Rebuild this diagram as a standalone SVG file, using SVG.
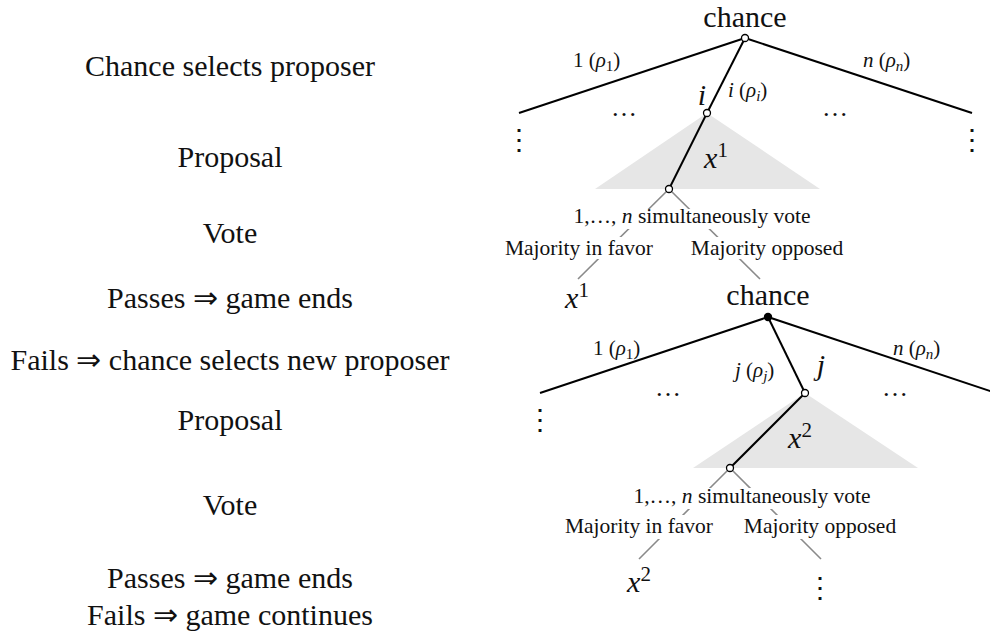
<svg xmlns="http://www.w3.org/2000/svg" width="990" height="633" viewBox="0 0 990 633">
<style>
text{font-family:"Liberation Serif","Times New Roman",serif;fill:#111}
.step{font-size:30px;text-anchor:middle}
.big{font-size:30px;text-anchor:middle}
.lab{font-size:21px}
.vote{font-size:21.5px;text-anchor:middle}
.it{font-style:italic}
.edge{stroke:#000;stroke-width:2;fill:none}
.gedge{stroke:#8a8a8a;stroke-width:1.6;fill:none}
.tri{fill:#e6e6e6;stroke:none}
.open{fill:#fff;stroke:#000;stroke-width:1.3}
.bg{fill:#fff}
.vd{font-family:"DejaVu Serif",serif;font-size:28px;text-anchor:middle}
.ell{font-size:26px;text-anchor:middle}
</style>
<g id="stages">
<text class="step" x="230" y="76">Chance selects proposer</text>
<text class="step" x="230" y="167">Proposal</text>
<text class="step" x="230" y="243">Vote</text>
<text class="step" x="230" y="308">Passes ⇒ game ends</text>
<text class="step" x="230" y="370">Fails ⇒ chance selects new proposer</text>
<text class="step" x="230" y="430">Proposal</text>
<text class="step" x="230" y="515">Vote</text>
<text class="step" x="230" y="588">Passes ⇒ game ends</text>
<text class="step" x="230" y="625">Fails ⇒ game continues</text>
</g>
<g id="triangles">
<polygon class="tri" points="595,189 820,189 707,113"/>
<polygon class="tri" points="693,468 918,468 805,393"/>
</g>
<g id="connectors">
<line class="edge" x1="745" y1="38" x2="519" y2="113"/>
<line class="edge" x1="745" y1="38" x2="972" y2="113"/>
<line class="edge" x1="745" y1="38" x2="707" y2="113"/>
<line class="edge" x1="707" y1="113" x2="669" y2="189"/>
<line class="gedge" x1="669" y1="189" x2="578" y2="279"/>
<line class="gedge" x1="669" y1="189" x2="760" y2="279"/>
<line class="edge" x1="768" y1="317" x2="540" y2="393"/>
<line class="edge" x1="768" y1="317" x2="996" y2="393"/>
<line class="edge" x1="768" y1="317" x2="805" y2="393"/>
<line class="edge" x1="805" y1="393" x2="730" y2="468"/>
<line class="gedge" x1="730" y1="468" x2="639" y2="559"/>
<line class="gedge" x1="730" y1="468" x2="821" y2="559"/>
</g>
<g id="chance1">
<text class="big" x="745" y="27">chance</text>
<circle class="open" cx="745" cy="38" r="3.5"/>
</g>
<g id="edge-labels1">
<text class="lab" x="573" y="67">1 (<tspan class="it">ρ</tspan><tspan font-size="15" dy="4">1</tspan><tspan dy="-4">)</tspan></text>
<text class="lab" x="863" y="67"><tspan class="it">n</tspan> (<tspan class="it">ρ</tspan><tspan class="it" font-size="15" dy="4">n</tspan><tspan dy="-4">)</tspan></text>
<text class="lab" x="728" y="97"><tspan class="it">i</tspan> (<tspan class="it">ρ</tspan><tspan class="it" font-size="15" dy="4">i</tspan><tspan dy="-4">)</tspan></text>
<text class="ell" x="624" y="116">…</text>
<text class="ell" x="835" y="116">…</text>
<text class="vd" x="519" y="149">⋮</text>
<text class="vd" x="972" y="149">⋮</text>
</g>
<g id="proposer-i">
<text class="big it" x="702" y="105">i</text>
<circle class="open" cx="707" cy="113" r="3.5"/>
<text class="big" x="716" y="168"><tspan class="it">x</tspan><tspan font-size="21" dy="-11">1</tspan></text>
</g>
<g id="vote1">
<circle class="open" cx="669" cy="189" r="3.5"/>
<rect class="bg" x="569" y="209" width="246" height="20"/>
<text class="vote" x="692" y="223">1,…, <tspan class="it">n</tspan> simultaneously vote</text>
<rect class="bg" x="504" y="237" width="150" height="22"/>
<text class="vote" x="579" y="255">Majority in favor</text>
<rect class="bg" x="688" y="237" width="160" height="22"/>
<text class="vote" x="767" y="255">Majority opposed</text>
</g>
<g id="outcome1">
<text class="big" x="577" y="308"><tspan class="it">x</tspan><tspan font-size="21" dy="-11">1</tspan></text>
</g>
<g id="chance2">
<text class="big" x="768" y="305">chance</text>
<circle cx="768" cy="317" r="4.2" fill="#000"/>
</g>
<g id="edge-labels2">
<text class="lab" x="593" y="355">1 (<tspan class="it">ρ</tspan><tspan font-size="15" dy="4">1</tspan><tspan dy="-4">)</tspan></text>
<text class="lab" x="893" y="355"><tspan class="it">n</tspan> (<tspan class="it">ρ</tspan><tspan class="it" font-size="15" dy="4">n</tspan><tspan dy="-4">)</tspan></text>
<text class="lab" x="735" y="377"><tspan class="it">j</tspan> (<tspan class="it">ρ</tspan><tspan class="it" font-size="15" dy="4">j</tspan><tspan dy="-4">)</tspan></text>
<text class="ell" x="668" y="396">…</text>
<text class="ell" x="895" y="396">…</text>
<text class="vd" x="540" y="429">⋮</text>
</g>
<g id="proposer-j">
<text class="big it" x="821" y="375">j</text>
<circle class="open" cx="805" cy="393" r="3.5"/>
<text class="big" x="800" y="448"><tspan class="it">x</tspan><tspan font-size="21" dy="-11">2</tspan></text>
</g>
<g id="vote2">
<circle class="open" cx="730" cy="468" r="3.5"/>
<rect class="bg" x="630" y="488" width="246" height="21"/>
<text class="vote" x="752" y="503">1,…, <tspan class="it">n</tspan> simultaneously vote</text>
<rect class="bg" x="564" y="515" width="150" height="24"/>
<text class="vote" x="639" y="533">Majority in favor</text>
<rect class="bg" x="741" y="515" width="158" height="24"/>
<text class="vote" x="820" y="533">Majority opposed</text>
</g>
<g id="outcome2">
<text class="big" x="639" y="592"><tspan class="it">x</tspan><tspan font-size="21" dy="-11">2</tspan></text>
<text class="vd" x="820" y="597">⋮</text>
</g>
</svg>
